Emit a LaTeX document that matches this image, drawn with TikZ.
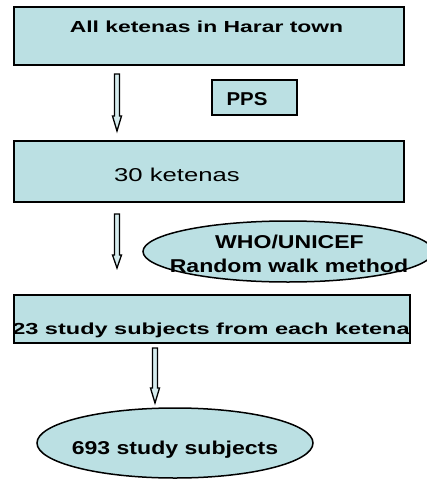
\documentclass[tikz,border=0pt]{standalone}
\usepackage{fontspec}
\usepackage{graphicx}
\setmainfont{Liberation Sans}
\usetikzlibrary{shapes.geometric,calc}
\definecolor{boxfill}{RGB}{187,224,227}
\tikzset{
  box/.style={draw=black, line width=2pt, fill=boxfill, inner sep=0pt, outer sep=0pt},
  smallbox/.style={draw=black, line width=1.5pt, fill=boxfill, inner sep=0pt, outer sep=0pt},
  oval/.style={ellipse, draw=black, line width=1.5pt, fill=boxfill, inner sep=0pt, outer sep=0pt},
  lbl/.style={anchor=base, inner sep=0pt, outer sep=0pt},
  harr/.style={draw=black, line width=1.3pt, fill=boxfill!60!white, line join=miter},
}
\newcommand{\hollowarrow}[3]{%
  \filldraw[harr] ($(#1)+(-2.5,0)$) -- ($(#1)+(2.5,0)$) -- ($(#2)+(2.5,-#3)$) -- ($(#2)+(4.5,-#3)$) -- (#2) -- ($(#2)+(-4.5,-#3)$) -- ($(#2)+(-2.5,-#3)$) -- cycle;}
\begin{document}
\begin{tikzpicture}[x=1pt, y=-1pt]
\useasboundingbox (0,0) rectangle (427,479);
% boxes
\node[box, minimum width=390pt, minimum height=58pt] (b1) at (209,36) {};
\node[smallbox, minimum width=85pt, minimum height=35pt] (pps) at (254.5,97.5) {};
\node[box, minimum width=390pt, minimum height=61pt] (b2) at (209,171.5) {};
\node[oval, minimum width=290pt, minimum height=61pt] (e1) at (288,251.5) {};
\node[box, minimum width=396pt, minimum height=48pt] (b3) at (212,319) {};
\node[oval, minimum width=276pt, minimum height=70pt] (e2) at (175,443) {};
% texts
\node[lbl] (t1) at (206.5,32.3) {\fontsize{16}{18}\selectfont\bfseries\scalebox{1.43}[1]{All ketenas in Harar town}};
\node[lbl] (tpps) at (247,105.3) {\fontsize{18.6}{22}\selectfont\bfseries\scalebox{1.1}[1]{PPS}};
\node[lbl] (t2) at (177,181.7) {\fontsize{18.6}{22}\selectfont\scalebox{1.38}[1]{30 ketenas}};
\node[lbl] (te1a) at (289.5,248.3) {\fontsize{18.6}{22}\selectfont\bfseries\scalebox{1.24}[1]{WHO/UNICEF}};
\node[lbl] (te1b) at (289,272.7) {\fontsize{18.6}{22}\selectfont\bfseries\scalebox{1.24}[1]{Random walk method}};
\node[lbl] (t3) at (211,334) {\fontsize{16}{18}\selectfont\bfseries\scalebox{1.47}[1]{23 study subjects from each ketena}};
\node[lbl] (te2) at (175,454.3) {\fontsize{18.6}{22}\selectfont\bfseries\scalebox{1.24}[1]{693 study subjects}};
% arrows
\coordinate (a1s) at (117,74);
\coordinate (a1e) at (117,131);
\coordinate (a2s) at (117,214);
\coordinate (a2e) at (117,268);
\coordinate (a3s) at (155,348);
\coordinate (a3e) at (155,403);
\hollowarrow{a1s}{a1e}{15}
\hollowarrow{a2s}{a2e}{13}
\hollowarrow{a3s}{a3e}{15}
\end{tikzpicture}
\end{document}
